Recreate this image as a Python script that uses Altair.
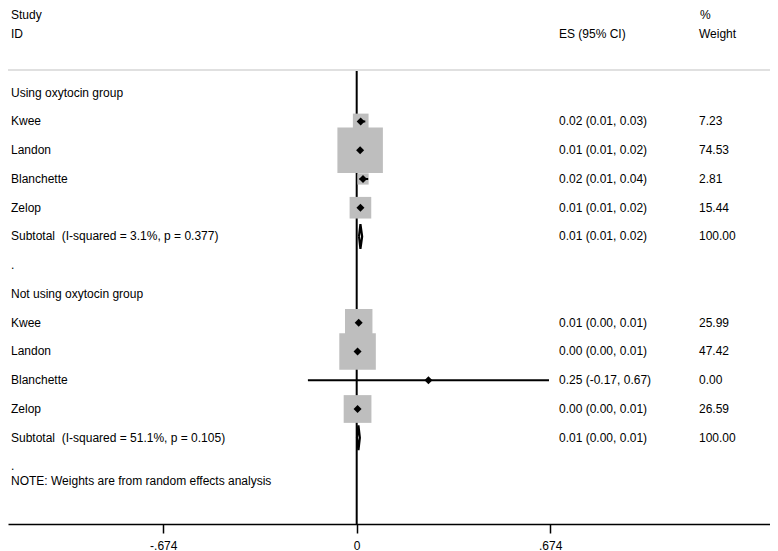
import altair as alt
import pandas as pd

# ---------------- data ----------------
row_index = list(range(14))
row_labels = ["Using oxytocin group", "Kwee", "Landon", "Blanchette", "Zelop",
              "Subtotal\u00a0 (I-squared = 3.1%, p = 0.377)", ".",
              "Not using oxytocin group", "Kwee", "Landon", "Blanchette", "Zelop",
              "Subtotal\u00a0 (I-squared = 51.1%, p = 0.105)", "."]
es_labels = ["", "0.02 (0.01, 0.03)", "0.01 (0.01, 0.02)", "0.02 (0.01, 0.04)",
             "0.01 (0.01, 0.02)", "0.01 (0.01, 0.02)", "", "",
             "0.01 (0.00, 0.01)", "0.00 (0.00, 0.01)", "0.25 (-0.17, 0.67)",
             "0.00 (0.00, 0.01)", "0.01 (0.00, 0.01)", ""]
weight_labels = ["", "7.23", "74.53", "2.81", "15.44", "100.00", "", "",
                 "25.99", "47.42", "0.00", "26.59", "100.00", ""]

study_rows = [1, 2, 3, 4, 8, 9, 10, 11]
study_es = [0.014, 0.012, 0.022, 0.013, 0.007, 0.003, 0.25, 0.003]
study_lo = [0.01, 0.01, 0.01, 0.01, 0.00, 0.00, -0.17, 0.00]
study_hi = [0.03, 0.02, 0.04, 0.02, 0.01, 0.01, 0.67, 0.01]
study_weight = [7.23, 74.53, 2.81, 15.44, 25.99, 47.42, 0.00, 26.59]

subtotal_rows = [5, 12]
subtotal_es = [0.013, 0.006]
subtotal_lo = [0.008, 0.001]
subtotal_hi = [0.019, 0.011]

tick_values = [-0.674, 0, 0.674]
null_value = [0]
note_text = "NOTE: Weights are from random effects analysis"

# ---------------- tables ----------------
rows_df = pd.DataFrame({"row": row_index, "label": row_labels,
                        "es_txt": es_labels, "w_txt": weight_labels})
studies = pd.DataFrame({"row": study_rows, "es": study_es, "lo": study_lo,
                        "hi": study_hi, "weight": study_weight})
boxes = studies[studies["weight"] > 0]

half_h = 0.43
poly = []
for g, (r, e, lo, hi) in enumerate(zip(subtotal_rows, subtotal_es, subtotal_lo, subtotal_hi)):
    pts = [(lo, r), (e, r - half_h), (hi, r), (e, r + half_h), (lo, r)]
    for k, (px, py) in enumerate(pts):
        poly.append({"grp": g, "ord": k, "px": px, "py": py})
poly_df = pd.DataFrame(poly)
zero_df = pd.DataFrame({"v": null_value})

# ---------------- scales ----------------
W, H = 762, 516
xs = alt.Scale(domain=[-1.2150, 1.4401], nice=False, zero=False)
ys = alt.Scale(domain=[-2.946, 15.0], reverse=True, nice=False, zero=False)
FONT = "Liberation Sans"
FS = 12

label_expr = ("(datum.value < 0 ? '-' : '') + "
              "replace(format(abs(datum.value), '.3~f'), '0.', '.')")

x_axis = alt.Axis(values=tick_values, grid=False, title=None,
                  labelExpr=label_expr,
                  domainColor="black", domainWidth=1.5, tickColor="black",
                  tickWidth=1.5, tickSize=9, labelFontSize=12, labelFont=FONT,
                  labelColor="black", labelPadding=7, labelFlush=False,
                  labelOverlap=False)

def X(field):
    return alt.X(field, scale=xs, axis=x_axis)

def Y(field):
    return alt.Y(field, scale=ys, axis=None)

base_rows = alt.Chart(rows_df)

gray_line = alt.Chart(zero_df).mark_rule(color="#E0E0E0", strokeWidth=2).encode(
    x=alt.value(0), x2=alt.value(W), y=alt.value(62))

zero_line = alt.Chart(zero_df).mark_rule(color="black", strokeWidth=2).encode(
    x=X("v:Q"), y=alt.value(63), y2=alt.value(H))

box_layer = alt.Chart(boxes).mark_square(color="#BEBEBE", opacity=1).encode(
    x=X("es:Q"), y=Y("row:Q"),
    size=alt.Size("weight:Q", scale=alt.Scale(domain=[0, 100], range=[50, 2760]), legend=None))

ci_layer = alt.Chart(studies).mark_rule(color="black", strokeWidth=2).encode(
    x=X("lo:Q"), x2="hi:Q", y=Y("row:Q"))

dia_layer = alt.Chart(studies).mark_point(shape="diamond", filled=True, color="black",
                                          size=64, opacity=1).encode(
    x=X("es:Q"), y=Y("row:Q"))

sub_layer = alt.Chart(poly_df).mark_line(color="black", strokeWidth=2.2).encode(
    x=X("px:Q"), y=Y("py:Q"), detail="grp:N", order="ord:Q")

txt = dict(align="left", baseline="middle", fontSize=FS, font=FONT, color="black")

label_layer = base_rows.mark_text(**txt).encode(
    x=alt.value(3), y=Y("row:Q"), text="label:N")
es_layer = base_rows.mark_text(**txt).encode(
    x=alt.value(551), y=Y("row:Q"), text="es_txt:N")
w_layer = base_rows.mark_text(**txt).encode(
    x=alt.value(691), y=Y("row:Q"), text="w_txt:N")

def header(text, x, y):
    return alt.Chart(zero_df).mark_text(text=text, **txt).encode(
        x=alt.value(x), y=alt.value(y))

note_layer = alt.Chart(zero_df).mark_text(text=note_text, **txt).encode(
    x=alt.value(3), y=alt.value(473))

chart = alt.layer(
    gray_line, zero_line, box_layer, ci_layer, dia_layer, sub_layer,
    label_layer, es_layer, w_layer,
    header("Study", 3, 7), header("ID", 3, 26),
    header("ES (95% CI)", 551, 26), header("%", 692, 7), header("Weight", 691, 26),
    note_layer,
).properties(
    width=W, height=H,
    autosize=alt.AutoSizeParams(type="none"),
    padding={"left": 0, "top": 0, "right": 0, "bottom": 40},
    background="white",
).configure_view(stroke=None)

chart.save("out.html", embed_options={"renderer": "svg", "actions": False})
